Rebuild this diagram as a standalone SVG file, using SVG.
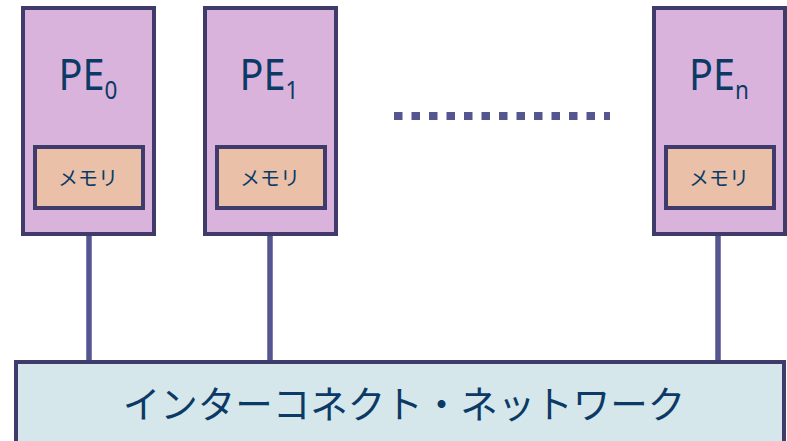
<svg xmlns="http://www.w3.org/2000/svg" width="787" height="441" viewBox="0 0 787 441">
<style>
.pe{fill:#dab3dc;stroke:#3f3c6b;stroke-width:4}
.mem{fill:#eac1a8;stroke:#3f3c6b;stroke-width:4}
.net{fill:#d5e7ea;stroke:#3f3c6b;stroke-width:4}
.t{fill:#0b3a66;font-family:"Noto Sans","Noto Sans CJK JP",sans-serif;text-anchor:middle}
.big{font-size:44px}
.sub{font-size:25px}
.m{font-size:20px}
.c{stroke:#555590;stroke-width:5.5;fill:none}
</style>
<g id="connectors">
<line class="c" x1="89" y1="234" x2="89" y2="362"/>
<line class="c" x1="270" y1="234" x2="270" y2="362"/>
<line class="c" x1="718" y1="234" x2="718" y2="362"/>
<line x1="394" y1="116" x2="610" y2="116" stroke="#555590" stroke-width="8" stroke-dasharray="8.5 9"/>
</g>
<g id="pe0">
<rect class="pe" x="23" y="8" width="131" height="226"/>
<text class="t big" transform="translate(88,90) scale(0.9,1)">PE<tspan class="sub" dy="9">0</tspan></text>
<rect class="mem" x="35" y="147" width="108" height="61"/>
<text class="t m" x="88" y="186">メモリ</text>
</g>
<g id="pe1">
<rect class="pe" x="205" y="8" width="131" height="226"/>
<text class="t big" transform="translate(269,90) scale(0.9,1)">PE<tspan class="sub" dy="9">1</tspan></text>
<rect class="mem" x="217" y="147" width="108" height="61"/>
<text class="t m" x="270" y="186">メモリ</text>
</g>
<g id="pen">
<rect class="pe" x="654" y="8" width="131" height="226"/>
<text class="t big" transform="translate(719,90) scale(0.9,1)">PE<tspan class="sub" dy="9">n</tspan></text>
<rect class="mem" x="666" y="147" width="108" height="61"/>
<text class="t m" x="719" y="186">メモリ</text>
</g>
<g id="network">
<rect class="net" x="16" y="362" width="768" height="90"/>
<text class="t" x="404" y="418" font-size="37.5">インターコネクト・ネットワーク</text>
</g>
</svg>
